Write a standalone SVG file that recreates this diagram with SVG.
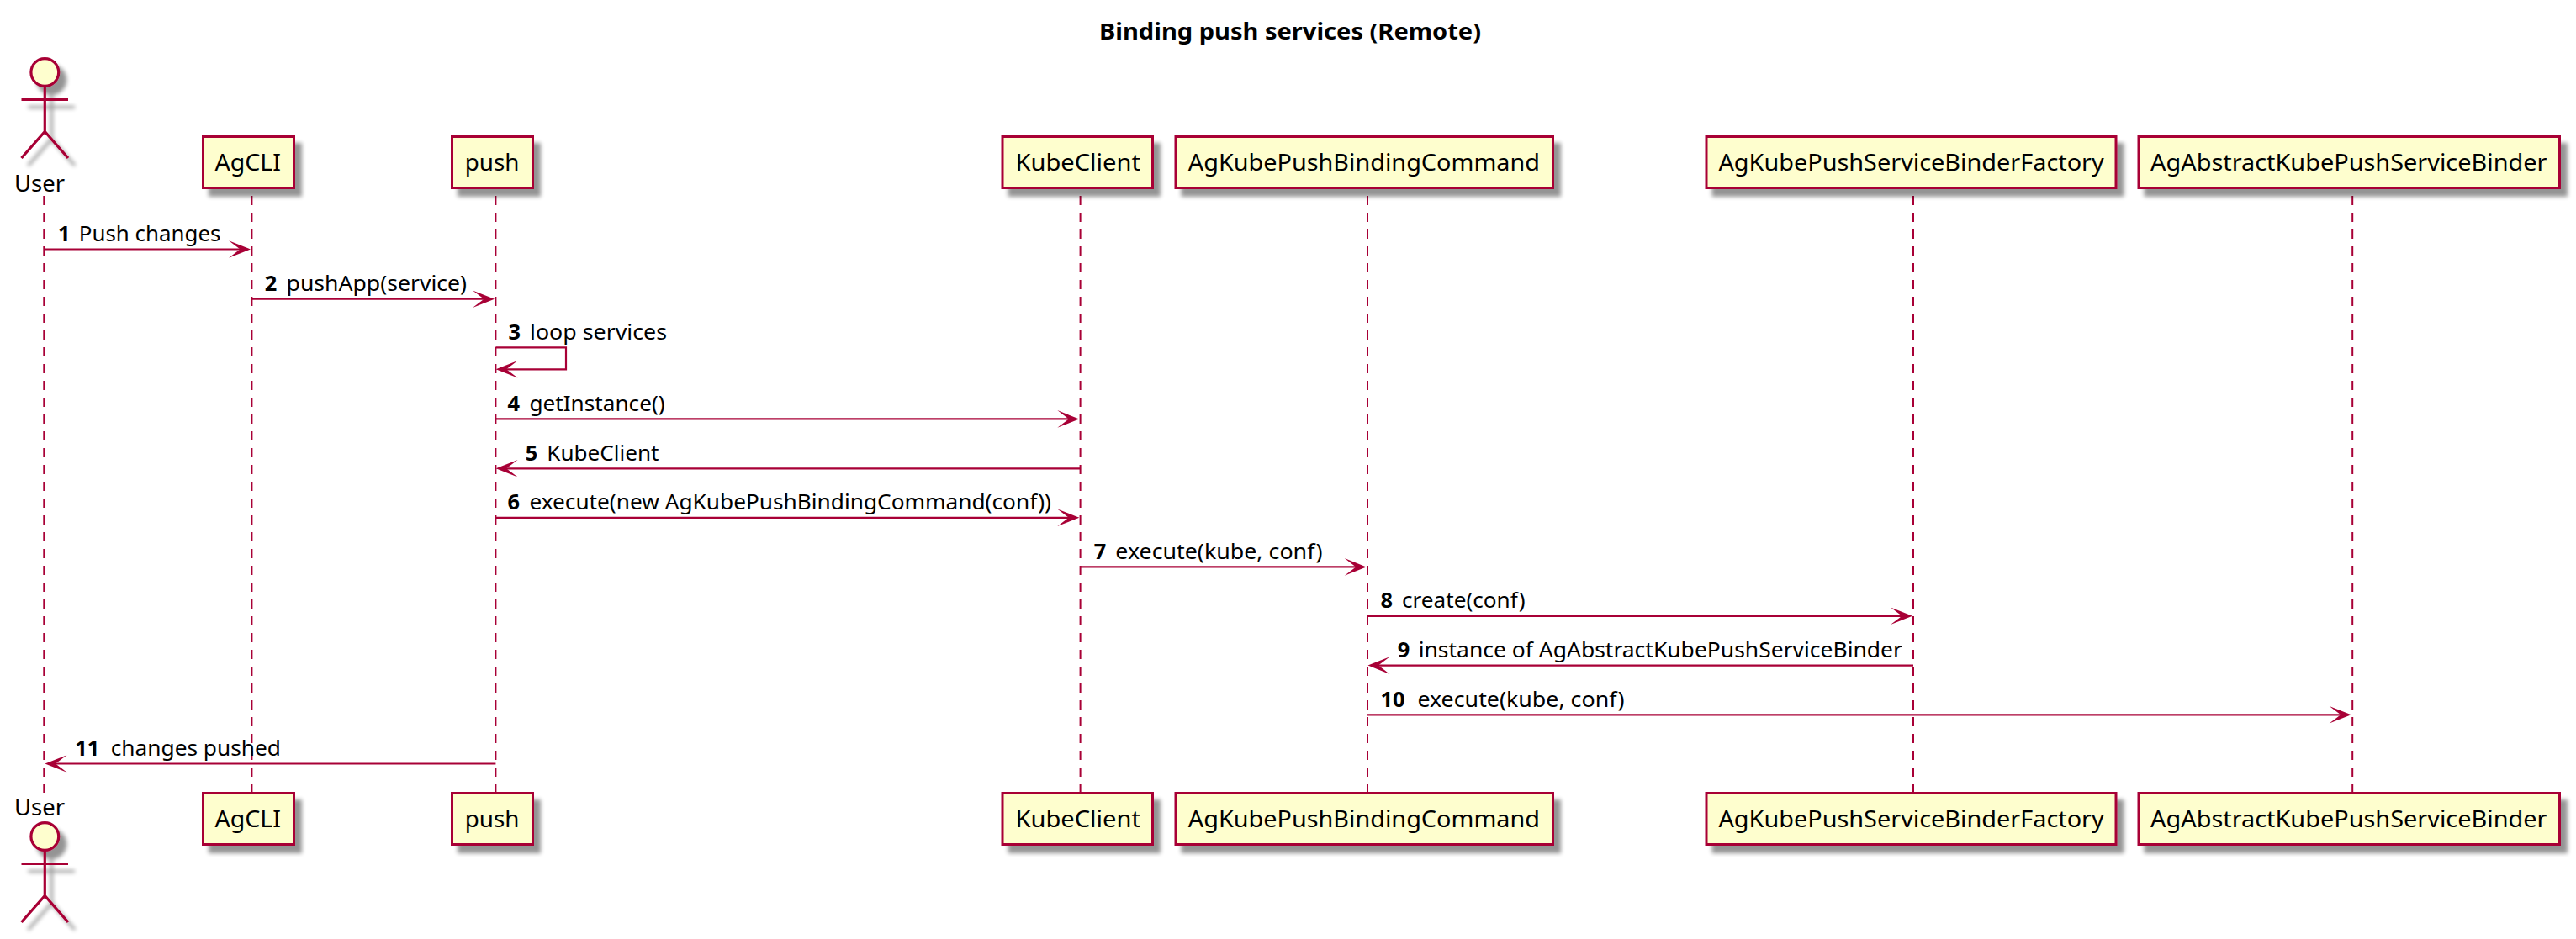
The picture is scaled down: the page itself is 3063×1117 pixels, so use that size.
<svg xmlns="http://www.w3.org/2000/svg" width="3063" height="1117" viewBox="0 0 3063 1117">
<style>
text{font-family:"Noto Sans","Open Sans","DejaVu Sans",sans-serif;fill:#000}
.title{font-size:27.3px;font-weight:700}
.name{font-size:27.3px}
.msg{font-size:25.4px}
.num{font-size:25.4px;font-weight:700}
.box{fill:#FEFECE;stroke:#A80036;stroke-width:3}
.actor{fill:#FEFECE;stroke:#A80036;stroke-width:3.2}
.life{fill:none;stroke:#A80036;stroke-width:2;stroke-dasharray:11 9}
.line{fill:none;stroke:#A80036;stroke-width:2.2}
.head{fill:#A80036}
</style>
<defs>
<filter id="sh" x="-20%" y="-20%" width="150%" height="150%">
<feGaussianBlur in="SourceAlpha" stdDeviation="2.6"/>
<feOffset dx="8" dy="9"/>
<feComponentTransfer><feFuncA type="linear" slope="0.42"/></feComponentTransfer>
<feMerge><feMergeNode/><feMergeNode in="SourceGraphic"/></feMerge>
</filter>
<g id="arrowR"><path class="head" d="M0 0L-26-10.3L-12.5 0L-26 10.3Z"/></g>
<g id="arrowL"><path class="head" d="M0 0L26-10.3L12.5 0L26 10.3Z"/></g>
<g id="stick"><g filter="url(#sh)"><ellipse class="actor" cx="53.3" cy="0" rx="16.4" ry="16.4"/><path class="actor" style="fill:none" d="M53.3 17V71M25.5 32.5H81M25.5 102L53.3 70.5L81 102"/></g></g>
</defs>
<text class="title" x="1307" y="46.7" textLength="454" lengthAdjust="spacingAndGlyphs">Binding push services (Remote)</text>
<g id="connectors">
<path class="life" d="M52.3 233V943"/>
<path class="life" d="M299.4 233V943"/>
<path class="life" d="M589.4 233V943"/>
<path class="life" d="M1284.6 233V943"/>
<path class="life" d="M1626 233V943"/>
<path class="life" d="M2275 233V943"/>
<path class="life" d="M2797.2 233V943"/>
<g id="m1"><path class="line" d="M52.3 296.5H288"/><use href="#arrowR" x="298" y="296.5"/><text class="num" x="69" y="286.7">1</text><text class="msg" x="93.8" y="286.7" textLength="168.7" lengthAdjust="spacingAndGlyphs">Push changes</text></g>
<g id="m2"><path class="line" d="M299.4 355.7H578"/><use href="#arrowR" x="588" y="355.7"/><text class="num" x="314.7" y="345.7">2</text><text class="msg" x="340.6" y="345.7" textLength="214.4" lengthAdjust="spacingAndGlyphs">pushApp(service)</text></g>
<g id="m3"><path class="line" d="M589.4 413.3H673V439.3H600"/><use href="#arrowL" x="589.6" y="439.3"/><text class="num" x="604.4" y="404">3</text><text class="msg" x="630" y="404" textLength="163" lengthAdjust="spacingAndGlyphs">loop services</text></g>
<g id="m4"><path class="line" d="M589.4 498.4H1274"/><use href="#arrowR" x="1283.3" y="498.4"/><text class="num" x="603.4" y="489">4</text><text class="msg" x="629.4" y="489" textLength="161.2" lengthAdjust="spacingAndGlyphs">getInstance()</text></g>
<g id="m5"><path class="line" d="M600 557.3H1284.6"/><use href="#arrowL" x="589.6" y="557.3"/><text class="num" x="624.8" y="547.7">5</text><text class="msg" x="650.3" y="547.7" textLength="133.2" lengthAdjust="spacingAndGlyphs">KubeClient</text></g>
<g id="m6"><path class="line" d="M589.4 615.8H1274"/><use href="#arrowR" x="1283.3" y="615.8"/><text class="num" x="603.4" y="606">6</text><text class="msg" x="629.4" y="606" textLength="620.6" lengthAdjust="spacingAndGlyphs">execute(new AgKubePushBindingCommand(conf))</text></g>
<g id="m7"><path class="line" d="M1284.6 674.4H1615"/><use href="#arrowR" x="1624.7" y="674.4"/><text class="num" x="1300.8" y="664.7">7</text><text class="msg" x="1326.3" y="664.7" textLength="246.2" lengthAdjust="spacingAndGlyphs">execute(kube, conf)</text></g>
<g id="m8"><path class="line" d="M1626 732.8H2264"/><use href="#arrowR" x="2274" y="732.8"/><text class="num" x="1641.4" y="723">8</text><text class="msg" x="1667" y="723" textLength="146.6" lengthAdjust="spacingAndGlyphs">create(conf)</text></g>
<g id="m9"><path class="line" d="M1637 791.6H2275"/><use href="#arrowL" x="1626.5" y="791.6"/><text class="num" x="1661.8" y="782">9</text><text class="msg" x="1686.7" y="782" textLength="575.3" lengthAdjust="spacingAndGlyphs">instance of AgAbstractKubePushServiceBinder</text></g>
<g id="m10"><path class="line" d="M1626 850.3H2786"/><use href="#arrowR" x="2795.7" y="850.3"/><text class="num" x="1641.4" y="841">10</text><text class="msg" x="1685.4" y="841" textLength="246.2" lengthAdjust="spacingAndGlyphs">execute(kube, conf)</text></g>
<g id="m11"><path class="line" d="M64 908.5H589.4"/><use href="#arrowL" x="53.5" y="908.5"/><text class="num" x="89.3" y="899.3">11</text><text class="msg" x="131.7" y="899.3" textLength="202.3" lengthAdjust="spacingAndGlyphs">changes pushed</text></g>
</g>
<g id="User">
<use href="#stick" y="86"/>
<text class="name" x="17" y="227.7" textLength="60" lengthAdjust="spacingAndGlyphs">User</text>
<use href="#stick" y="995"/>
<text class="name" x="17" y="970" textLength="60" lengthAdjust="spacingAndGlyphs">User</text>
</g>
<g id="AgCLI">
<rect class="box" filter="url(#sh)" x="241.5" y="162.5" width="108" height="61"/>
<text class="name" x="255.4" y="203.3" textLength="78.6" lengthAdjust="spacingAndGlyphs">AgCLI</text>
<rect class="box" filter="url(#sh)" x="241.5" y="943.5" width="108" height="61"/>
<text class="name" x="255.4" y="984.3" textLength="78.6" lengthAdjust="spacingAndGlyphs">AgCLI</text>
</g>
<g id="push">
<rect class="box" filter="url(#sh)" x="537.5" y="162.5" width="96" height="61"/>
<text class="name" x="552.7" y="203.3" textLength="64.7" lengthAdjust="spacingAndGlyphs">push</text>
<rect class="box" filter="url(#sh)" x="537.5" y="943.5" width="96" height="61"/>
<text class="name" x="552.7" y="984.3" textLength="64.7" lengthAdjust="spacingAndGlyphs">push</text>
</g>
<g id="KubeClient">
<rect class="box" filter="url(#sh)" x="1192" y="162.5" width="178.5" height="61"/>
<text class="name" x="1207.4" y="203.3" textLength="148.6" lengthAdjust="spacingAndGlyphs">KubeClient</text>
<rect class="box" filter="url(#sh)" x="1192" y="943.5" width="178.5" height="61"/>
<text class="name" x="1207.4" y="984.3" textLength="148.6" lengthAdjust="spacingAndGlyphs">KubeClient</text>
</g>
<g id="AgKubePushBindingCommand">
<rect class="box" filter="url(#sh)" x="1398" y="162.5" width="448.5" height="61"/>
<text class="name" x="1412.8" y="203.3" textLength="418.2" lengthAdjust="spacingAndGlyphs">AgKubePushBindingCommand</text>
<rect class="box" filter="url(#sh)" x="1398" y="943.5" width="448.5" height="61"/>
<text class="name" x="1412.8" y="984.3" textLength="418.2" lengthAdjust="spacingAndGlyphs">AgKubePushBindingCommand</text>
</g>
<g id="AgKubePushServiceBinderFactory">
<rect class="box" filter="url(#sh)" x="2029" y="162.5" width="487" height="61"/>
<text class="name" x="2043.4" y="203.3" textLength="458.3" lengthAdjust="spacingAndGlyphs">AgKubePushServiceBinderFactory</text>
<rect class="box" filter="url(#sh)" x="2029" y="943.5" width="487" height="61"/>
<text class="name" x="2043.4" y="984.3" textLength="458.3" lengthAdjust="spacingAndGlyphs">AgKubePushServiceBinderFactory</text>
</g>
<g id="AgAbstractKubePushServiceBinder">
<rect class="box" filter="url(#sh)" x="2543" y="162.5" width="500.5" height="61"/>
<text class="name" x="2557" y="203.3" textLength="471.5" lengthAdjust="spacingAndGlyphs">AgAbstractKubePushServiceBinder</text>
<rect class="box" filter="url(#sh)" x="2543" y="943.5" width="500.5" height="61"/>
<text class="name" x="2557" y="984.3" textLength="471.5" lengthAdjust="spacingAndGlyphs">AgAbstractKubePushServiceBinder</text>
</g>
</svg>
